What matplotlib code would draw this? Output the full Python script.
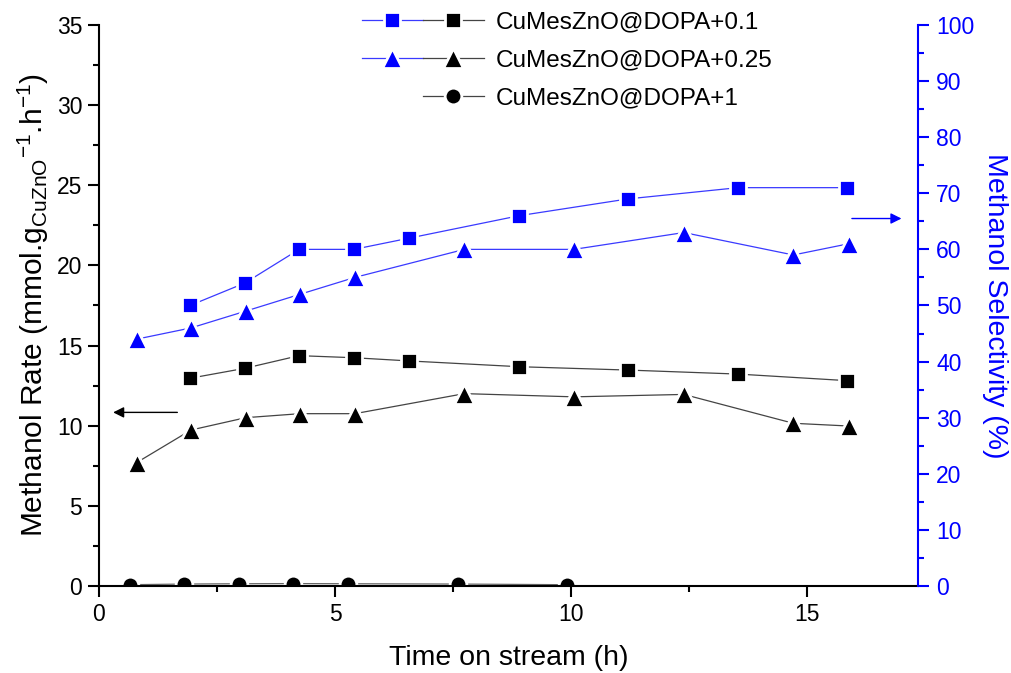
import matplotlib
matplotlib.use("Agg")
import matplotlib.pyplot as plt
from matplotlib.lines import Line2D
from matplotlib.legend_handler import HandlerTuple
from matplotlib.ticker import MultipleLocator

plt.rcParams['font.family'] = ['Liberation Sans', 'DejaVu Sans']
plt.rcParams['mathtext.fontset'] = 'custom'
plt.rcParams['mathtext.rm'] = 'Liberation Sans'
plt.rcParams['mathtext.it'] = 'Liberation Sans'

# ---- data ----
t_sq = [1.93, 3.09, 4.24, 5.40, 6.57, 8.90, 11.21, 13.54, 15.85]
rate_01 = [12.96, 13.58, 14.37, 14.24, 14.04, 13.68, 13.47, 13.22, 12.81]
sel_01 = [50.0, 54.0, 60.0, 60.0, 62.0, 66.0, 69.0, 71.0, 71.0]

t_tr = [0.80, 1.95, 3.11, 4.26, 5.42, 7.74, 10.06, 12.39, 14.71, 15.88]
rate_025 = [7.7, 9.73, 10.5, 10.75, 10.75, 12.0, 11.8, 11.95, 10.15, 9.98]
sel_025 = [44.0, 46.0, 49.0, 52.0, 55.0, 60.0, 60.0, 63.0, 59.0, 61.0]

t_ci = [0.66, 1.80, 2.97, 4.12, 5.28, 7.60, 9.91]
rate_1 = [0.08, 0.12, 0.14, 0.15, 0.14, 0.12, 0.08]

labels = ['CuMesZnO@DOPA+0.1', 'CuMesZnO@DOPA+0.25', 'CuMesZnO@DOPA+1']

BLUE = '#0000ff'
LBLUE = '#3a3aff'
BLK = 'black'
LGRAY = '#444444'

fig = plt.figure(figsize=(10.11, 6.73), dpi=100)
ax = fig.add_axes([0.0979, 0.1293, 0.8101, 0.8336])
ax2 = ax.twinx()

mk = dict(markeredgecolor='white', markeredgewidth=2.0)
l1, = ax.plot(t_sq, rate_01, '-', color=LGRAY, lw=0.9, marker='s', ms=12, markerfacecolor=BLK, **mk)
l2, = ax.plot(t_tr, rate_025, '-', color=LGRAY, lw=0.9, marker='^', ms=14, markerfacecolor=BLK, **mk)
l3, = ax.plot(t_ci, rate_1, '-', color='#666666', lw=0.9, marker='o', ms=12, markerfacecolor=BLK, **mk)
b1, = ax2.plot(t_sq, sel_01, '-', color=LBLUE, lw=0.9, marker='s', ms=12, markerfacecolor=BLUE, **mk)
b2, = ax2.plot(t_tr, sel_025, '-', color=LBLUE, lw=0.9, marker='^', ms=14, markerfacecolor=BLUE, **mk)

ax.set_xlim(0, 17.35)
ax.set_ylim(0, 35)
ax2.set_ylim(0, 100)

ax.xaxis.set_major_locator(MultipleLocator(5))
ax.xaxis.set_minor_locator(MultipleLocator(2.5))
ax.yaxis.set_major_locator(MultipleLocator(5))
ax.yaxis.set_minor_locator(MultipleLocator(2.5))
ax2.yaxis.set_major_locator(MultipleLocator(10))
ax2.yaxis.set_minor_locator(MultipleLocator(5))

for a in (ax, ax2):
    a.spines['top'].set_visible(False)
ax.spines['right'].set_visible(False)
ax2.spines['left'].set_visible(False)
ax2.spines['bottom'].set_visible(False)
ax2.spines['right'].set_color(BLUE)
for s in ('left', 'bottom'):
    ax.spines[s].set_linewidth(1.5)
ax2.spines['right'].set_linewidth(1.5)

ax.tick_params(axis='both', which='major', direction='out', length=8, width=1.5, labelsize=16.5, pad=4)
ax.tick_params(axis='both', which='minor', direction='out', length=4.5, width=1.5)
ax2.tick_params(axis='y', which='major', direction='out', length=8, width=1.5, labelsize=16.5,
                colors=BLUE, pad=5)
ax2.tick_params(axis='y', which='minor', direction='out', length=4.5, width=1.5, colors=BLUE)

ax.set_xlabel('Time on stream (h)', fontsize=20.5, labelpad=14)
ax.set_ylabel(r'Methanol Rate (mmol.g$_{\mathrm{CuZnO}}$$^{\mathrm{-1}}$.h$^{\mathrm{-1}}$)',
              fontsize=21.5, labelpad=4)
ax2.set_ylabel('Methanol Selectivity (%)', fontsize=20.5, color=BLUE, rotation=270, labelpad=24)

# arrows
ax.annotate('', xy=(0.30, 10.83), xytext=(1.66, 10.83),
            arrowprops=dict(arrowstyle='-|>', color=BLK, lw=1.0, mutation_scale=16,
                            shrinkA=0, shrinkB=0))
ax2.annotate('', xy=(17.0, 65.5), xytext=(15.95, 65.5),
             arrowprops=dict(arrowstyle='-|>', color=BLUE, lw=1.0, mutation_scale=16,
                             shrinkA=0, shrinkB=0))

# legend (Origin-style paired handles)
blank = Line2D([], [], linestyle='None', marker=None)
h1 = (Line2D([], [], color=LBLUE, lw=0.9, marker='s', ms=12, markerfacecolor=BLUE, **mk),
      Line2D([], [], color=LGRAY, lw=0.9, marker='s', ms=12, markerfacecolor=BLK, **mk))
h2 = (Line2D([], [], color=LBLUE, lw=0.9, marker='^', ms=14, markerfacecolor=BLUE, **mk),
      Line2D([], [], color=LGRAY, lw=0.9, marker='^', ms=14, markerfacecolor=BLK, **mk))
h3 = (blank,
      Line2D([], [], color=LGRAY, lw=0.9, marker='o', ms=12, markerfacecolor=BLK, **mk))
leg = fig.legend([h1, h2, h3], labels, handler_map={tuple: HandlerTuple(ndivide=None, pad=0)},
                 loc='upper left', bbox_to_anchor=(362 / 1011, 1 - 11 / 673), frameon=False,
                 fontsize=17.5, handlelength=5.0, handletextpad=0.5, labelspacing=0.66,
                 borderpad=0, borderaxespad=0, numpoints=1)

fig.savefig('out.png', dpi=100)
